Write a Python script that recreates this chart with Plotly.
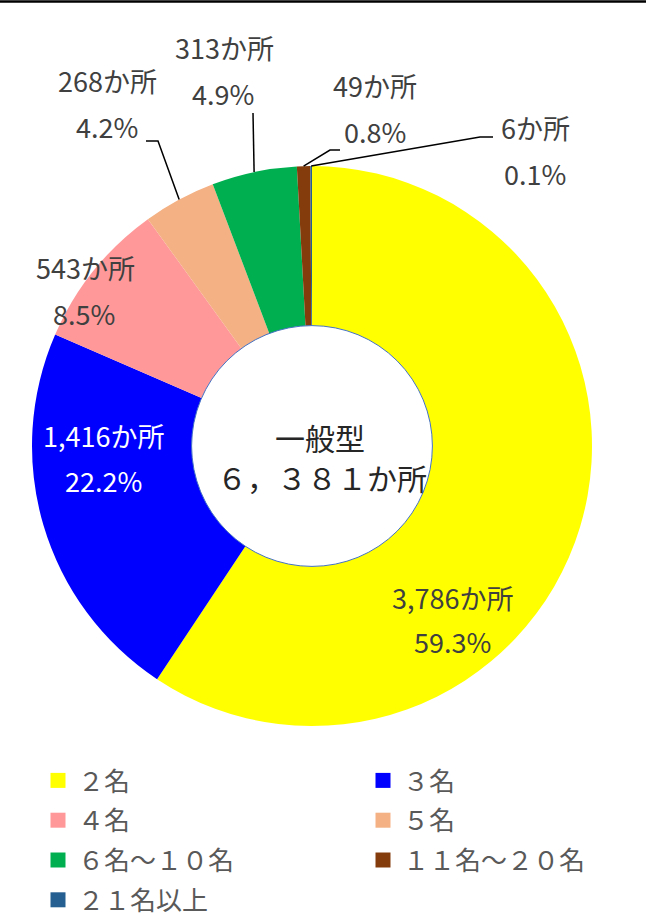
import math
import plotly.graph_objects as go

# ---------------- data ----------------
categories = ["２名", "３名", "４名", "５名", "６名～１０名", "１１名～２０名", "２１名以上"]
counts = [3786, 1416, 543, 268, 313, 49, 6]
colors = ["#FFFF00", "#0000FF", "#FF9999", "#F4B183", "#00B050", "#843C0C", "#255E91"]
center_title = "一般型"
center_total = "６，３８１か所"
unit = "か所"

# ---------------- layout constants (pixels) ----------------
W, H = 646, 922
CX, CY, R = 312, 446, 280
HOLE = 0.43

def px(x):
    return x / W

def py(y):
    return 1 - y / H

# label positions: (count-line x, y), (pct-line x, y), text color
label_pos = [
    ((452, 597), (452, 641), "#404040"),
    ((103, 435), (103, 481), "#FFFFFF"),
    ((85, 268), (84, 314), "#404040"),
    ((107, 80), (107, 126), "#404040"),
    ((224, 48), (223, 94), "#404040"),
    ((375, 85), (375, 131), "#404040"),
    ((535, 128), (535, 174), "#404040"),
]
# leader lines: elbow point and end point (None = no leader)
leaders = [None, None, None,
           ((158, 141), (146, 141)),
           ((253, 113), (253, 113)),
           ((330, 150), (340, 150)),
           ((480, 137), (493, 137))]

total = sum(counts)

fig = go.Figure()
fig.add_trace(go.Pie(
    labels=categories, values=counts, hole=HOLE, sort=False,
    direction="clockwise", rotation=0,
    marker=dict(colors=colors, line=dict(width=0)),
    textinfo="none", showlegend=False, hoverinfo="label+value+percent",
    domain=dict(x=[px(CX - R), px(CX + R)], y=[py(CY + R), py(CY - R)]),
))

# legend entries (two columns -> two legends)
for i, (cat, col) in enumerate(zip(categories, colors)):
    fig.add_trace(go.Scatter(
        x=[None], y=[None], mode="markers", name=cat,
        marker=dict(symbol="square", size=15, color=col),
        legend="legend" if i % 2 == 0 else "legend2",
        legendgroup=cat, showlegend=True,
    ))

annotations = []
shapes = []
cum = 0
for i, c in enumerate(counts):
    frac = c / total
    mid = cum + frac / 2
    cum += frac
    (x1, y1), (x2, y2), tcol = label_pos[i]
    annotations.append(dict(x=px(x1), y=py(y1), xref="paper", yref="paper",
                            text=f"{c:,}{unit}", showarrow=False,
                            xanchor="center", yanchor="middle",
                            font=dict(size=27, color=tcol)))
    annotations.append(dict(x=px(x2), y=py(y2), xref="paper", yref="paper",
                            text=f"{frac*100:.1f}%", showarrow=False,
                            xanchor="center", yanchor="middle",
                            font=dict(size=27, color=tcol)))
    if leaders[i] is not None:
        ang = 2 * math.pi * mid
        sx = CX + R * math.sin(ang)
        sy = CY - R * math.cos(ang)
        (ex, ey), (tx, ty) = leaders[i]
        path = f"M {px(sx)} {py(sy)} L {px(ex)} {py(ey)} L {px(tx)} {py(ty)}"
        shapes.append(dict(type="path", xref="paper", yref="paper", path=path,
                           line=dict(color="black", width=1.5)))

# hole outline
hr = R * HOLE
shapes.append(dict(type="circle", xref="paper", yref="paper",
                   x0=px(CX - hr), x1=px(CX + hr), y0=py(CY + hr), y1=py(CY - hr),
                   line=dict(color="#4472C4", width=1), fillcolor="rgba(0,0,0,0)"))
# top border line
shapes.append(dict(type="line", xref="paper", yref="paper",
                   x0=0, x1=1, y0=py(1.5), y1=py(1.5),
                   line=dict(color="black", width=2.5)))

annotations.append(dict(x=px(320), y=py(437), xref="paper", yref="paper",
                        text=center_title, showarrow=False,
                        font=dict(size=30, color="#262626")))
annotations.append(dict(x=px(322), y=py(477), xref="paper", yref="paper",
                        text=center_total, showarrow=False,
                        font=dict(size=30, color="#262626")))

legend_common = dict(orientation="v", xanchor="left", yanchor="top",
                     font=dict(size=26, color="#595959"),
                     tracegroupgap=3, bgcolor="rgba(0,0,0,0)",
                     itemclick=False, itemdoubleclick=False)

fig.update_layout(
    width=W, height=H,
    margin=dict(l=0, r=0, t=0, b=0, autoexpand=False),
    paper_bgcolor="white", plot_bgcolor="white",
    font=dict(family="Noto Sans CJK JP, Noto Sans, sans-serif", color="#404040"),
    xaxis=dict(visible=False), yaxis=dict(visible=False),
    annotations=annotations, shapes=shapes,
    legend=dict(x=px(38), y=py(757), **legend_common),
    legend2=dict(x=px(363), y=py(757), **legend_common),
)

fig.write_html("out.html")
